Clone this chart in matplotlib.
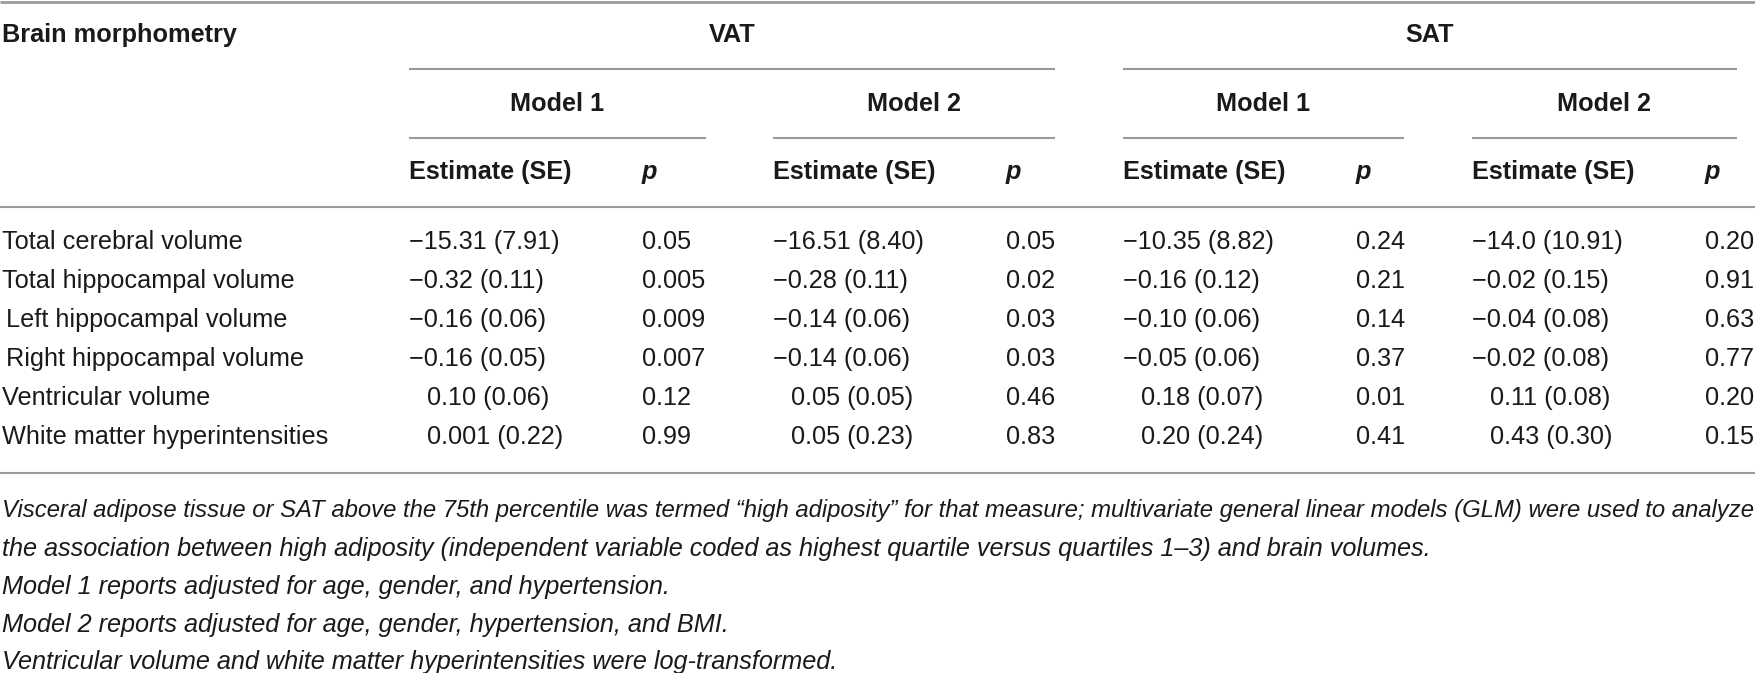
import matplotlib.pyplot as plt

# table content
row_labels = ['Total cerebral volume', 'Total hippocampal volume',
              'Left hippocampal volume', 'Right hippocampal volume',
              'Ventricular volume', 'White matter hyperintensities']
indent = [0, 0, 1, 1, 0, 0]

vat_m1_est = ['−15.31 (7.91)', '−0.32 (0.11)', '−0.16 (0.06)', '−0.16 (0.05)', '0.10 (0.06)', '0.001 (0.22)']
vat_m1_p = ['0.05', '0.005', '0.009', '0.007', '0.12', '0.99']
vat_m2_est = ['−16.51 (8.40)', '−0.28 (0.11)', '−0.14 (0.06)', '−0.14 (0.06)', '0.05 (0.05)', '0.05 (0.23)']
vat_m2_p = ['0.05', '0.02', '0.03', '0.03', '0.46', '0.83']
sat_m1_est = ['−10.35 (8.82)', '−0.16 (0.12)', '−0.10 (0.06)', '−0.05 (0.06)', '0.18 (0.07)', '0.20 (0.24)']
sat_m1_p = ['0.24', '0.21', '0.14', '0.37', '0.01', '0.41']
sat_m2_est = ['−14.0 (10.91)', '−0.02 (0.15)', '−0.04 (0.08)', '−0.02 (0.08)', '0.11 (0.08)', '0.43 (0.30)']
sat_m2_p = ['0.20', '0.91', '0.63', '0.77', '0.20', '0.15']

footnotes = [
    'Visceral adipose tissue or SAT above the 75th percentile was termed \u201chigh adiposity\u201d for that measure; '
    'multivariate general linear models (GLM) were used to analyze',
    'the association between high adiposity (independent variable coded as highest quartile versus quartiles 1\u20133) '
    'and brain volumes.',
    'Model 1 reports adjusted for age, gender, and hypertension.',
    'Model 2 reports adjusted for age, gender, hypertension, and BMI.',
    'Ventricular volume and white matter hyperintensities were log-transformed.',
]

# layout (pixels)
W, H = 1755, 673
est_x = [409, 773, 1123, 1472]
p_dx = 233
group_span = [(409, 1055), (1123, 1737)]
model_span = [(409, 706), (773, 1055), (1123, 1404), (1472, 1737)]
row_y = [240, 279, 318, 357, 396, 435]
foot_y = [508, 547, 585, 623, 660]
fs = 18.2
cap = 9  # half cap height, to put baseline under the center
minus_w = 18
line_c = '#9a9a9a'
text_c = '#1a1a1a'

plt.rcParams['font.family'] = ['Liberation Sans', 'DejaVu Sans']

fig = plt.figure(figsize=(W / 100, H / 100), dpi=100)
ax = fig.add_axes([0, 0, 1, 1])
ax.set_xlim(0, W)
ax.set_ylim(H, 0)
ax.axis('off')


def txt(x, y, s, size=fs, **kw):
    return ax.text(x, y + cap, s, fontsize=size, va='baseline', color=text_c, **kw)


def hline(x0, x1, y, lw=1.5):
    ax.plot([x0, x1], [y, y], color=line_c, lw=lw, solid_capstyle='butt')


# rules
hline(0, W, 1.5, lw=2)
for a, b in group_span:
    hline(a, b, 69)
for a, b in model_span:
    hline(a, b, 138)
hline(0, W, 207)
hline(0, W, 473)

# header
txt(2, 33, 'Brain morphometry', fontweight='bold')
for (a, b), name in zip(group_span, ['VAT', 'SAT']):
    txt((a + b) / 2, 33, name, fontweight='bold', ha='center')
for (a, b), name in zip(model_span, ['Model 1', 'Model 2', 'Model 1', 'Model 2']):
    txt((a + b) / 2, 102, name, fontweight='bold', ha='center')
for x in est_x:
    txt(x, 170, 'Estimate (SE)', fontweight='bold')
    txt(x + p_dx, 170, 'p', fontweight='bold', style='italic')

# body
cols = [(vat_m1_est, vat_m1_p), (vat_m2_est, vat_m2_p),
        (sat_m1_est, sat_m1_p), (sat_m2_est, sat_m2_p)]
for i, label in enumerate(row_labels):
    y = row_y[i]
    txt(2 + 4 * indent[i], y, label)
    for x, (est, pv) in zip(est_x, cols):
        s = est[i]
        dx = 0 if s.startswith('−') else minus_w
        txt(x + dx, y, s)
        txt(x + p_dx, y, pv[i])

# footnotes; the first line is set tight to fill the width
renderer = fig.canvas.get_renderer()
for y, s in zip(foot_y, footnotes):
    t = txt(2, y, s, style='italic')
    w = t.get_window_extent(renderer).width
    if w > W - 6:
        t.set_fontsize(fs * (W - 6) / w)

fig.savefig('out.png', dpi=100)
